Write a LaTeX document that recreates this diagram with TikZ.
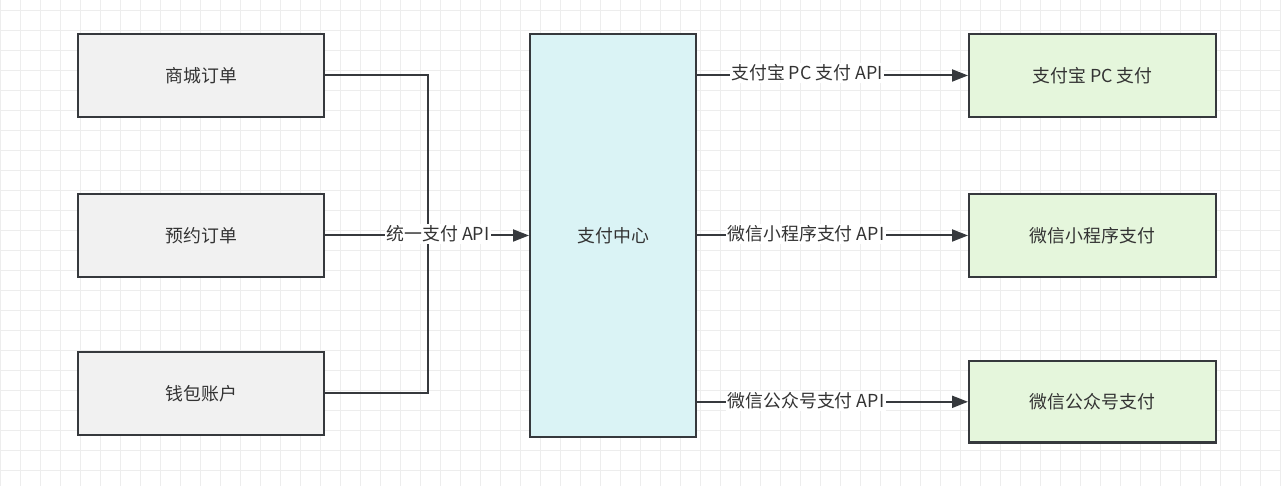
\documentclass[tikz,border=0pt]{standalone}
\usepackage{fontspec}
\setmainfont{Noto Sans CJK SC}
\usetikzlibrary{arrows.meta}
\definecolor{bordc}{HTML}{36393D}
\definecolor{txtc}{HTML}{333333}
\definecolor{grayf}{HTML}{F1F1F1}
\definecolor{cyanf}{HTML}{DAF3F5}
\definecolor{greenf}{HTML}{E5F6DC}
\definecolor{gridc}{HTML}{EDEDED}
\tikzset{
  box/.style={draw=bordc, line width=1.7pt, rectangle, text=txtc, font=\fontsize{13.4}{15}\selectfont, inner sep=0pt, anchor=north west},
  boxtxt/.style={text=txtc, font=\fontsize{13.4}{15}\selectfont},
  conn/.style={draw=bordc, line width=1.5pt},
  arr/.style={conn, -{Triangle[length=12pt,width=9pt]}},
  lbl/.style={fill=white, text=txtc, font=\fontsize{13.4}{15}\selectfont, inner sep=1pt}
}
\begin{document}
\begin{tikzpicture}[x=0.75pt,y=-0.75pt]
\useasboundingbox (0,0) rectangle (1281,486);
\fill[white] (0,0) rectangle (1281,486);
\foreach \i in {0,20,...,1280} \draw[gridc, line width=0.6pt] (\i,0) -- (\i,486);
\foreach \j in {10,30,...,486} \draw[gridc, line width=0.6pt] (0,\j) -- (1281,\j);
% left boxes
\node[box, fill=grayf, minimum width=184.5pt, minimum height=62pt] (a) at (77,33) {};
\node[boxtxt] at (a.center) {商城订单};
\node[box, fill=grayf, minimum width=184.5pt, minimum height=62pt] (b) at (77,193) {};
\node[boxtxt] at (b.center) {预约订单};
\node[box, fill=grayf, minimum width=184.5pt, minimum height=62pt] (c) at (77,351) {};
\node[boxtxt] at (c.center) {钱包账户};
% center
\node[box, fill=cyanf, minimum width=124.5pt, minimum height=302pt] (m) at (529,33) {};
\node[boxtxt] at (m.center) {支付中心};
% right boxes
\node[box, fill=greenf, minimum width=185pt, minimum height=62pt] (r1) at (968,33) {};
\node[boxtxt] at (r1.center) {支付宝 PC 支付};
\node[box, fill=greenf, minimum width=185pt, minimum height=62pt] (r2) at (968,193) {};
\node[boxtxt] at (r2.center) {微信小程序支付};
\node[box, fill=greenf, minimum width=185pt, minimum height=61pt] (r3) at (968,360) {};
\node[boxtxt] at (r3.center) {微信公众号支付};
% left connectors
\coordinate (j) at (428,234);
\draw[conn] (a.east) -| (j);
\draw[conn] (c.east) -| (j);
\draw[arr] (b.east) -- (m.west |- b.east);
\node[lbl] (l0) at (438,234) {统一支付 API};
% right connectors
\draw[arr] (m.east |- r1.west) -- (r1.west);
\node[lbl] (l1) at (807,73) {支付宝 PC 支付 API};
\draw[arr] (m.east |- r2.west) -- (r2.west);
\node[lbl] (l2) at (806,234) {微信小程序支付 API};
\draw[arr] (m.east |- r3.west) -- (r3.west);
\node[lbl] (l3) at (806,401) {微信公众号支付 API};
\end{tikzpicture}
\end{document}
